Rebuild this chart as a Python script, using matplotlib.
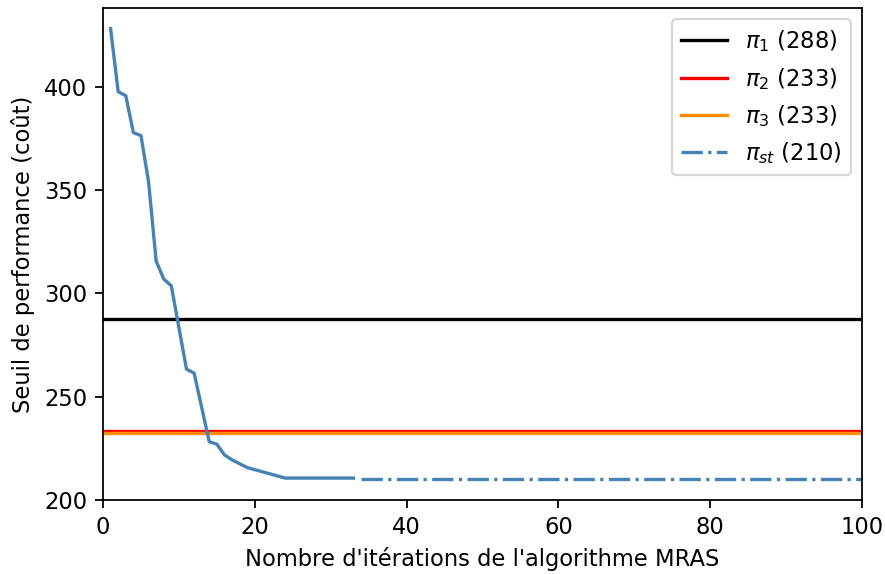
import matplotlib
matplotlib.use("Agg")
import matplotlib.pyplot as plt

# MRAS convergence: iteration index and best performance threshold found
iterations = [1, 2, 3, 4, 5, 6, 7, 8, 9, 10, 11, 12, 13, 14, 15, 16, 17, 19, 24, 33]
threshold = [428.0, 397.5, 395.6, 377.7, 376.3, 354.0, 315.6, 306.9, 303.6, 283.4,
             263.3, 261.4, 244.8, 228.2, 227.0, 221.8, 219.4, 215.7, 210.6, 210.6]

# Stationary policy value, shown from the end of the search to the last iteration
st_iterations = [34, 100]
pi_st = 210.0

# Reference policies
pi_1 = 287.6
pi_2 = 233.45
pi_3 = 232.6

plt.rcParams["font.size"] = 10.2

DPI = 160
fig = plt.figure(figsize=(885 / DPI, 574 / DPI), dpi=DPI)
ax = fig.add_axes([103 / 885, 1 - 500 / 574, 759 / 885, 492 / 574])

lw = 1.5
ax.axhline(pi_1, color="black", lw=lw, label=rf"$\pi_1$ ({pi_1:.0f})")
ax.axhline(pi_2, color="red", lw=lw, label=rf"$\pi_2$ ({pi_2:.0f})")
ax.axhline(pi_3, color="darkorange", lw=lw, label=rf"$\pi_3$ ({pi_3:.0f})")
ax.plot(iterations, threshold, color="steelblue", lw=lw)
ax.plot(st_iterations, [pi_st, pi_st], color="steelblue", lw=lw, ls="-.",
        label=rf"$\pi_{{st}}$ ({pi_st:.0f})")

ax.set_xlim(0, 100)
ax.set_ylim(200, 438)
ax.set_yticks([200, 250, 300, 350, 400])
ax.set_xlabel("Nombre d'itérations de l'algorithme MRAS")
ax.set_ylabel("Seuil de performance (coût)")

ax.legend(loc="upper right")

fig.savefig("out.png", dpi=DPI)
